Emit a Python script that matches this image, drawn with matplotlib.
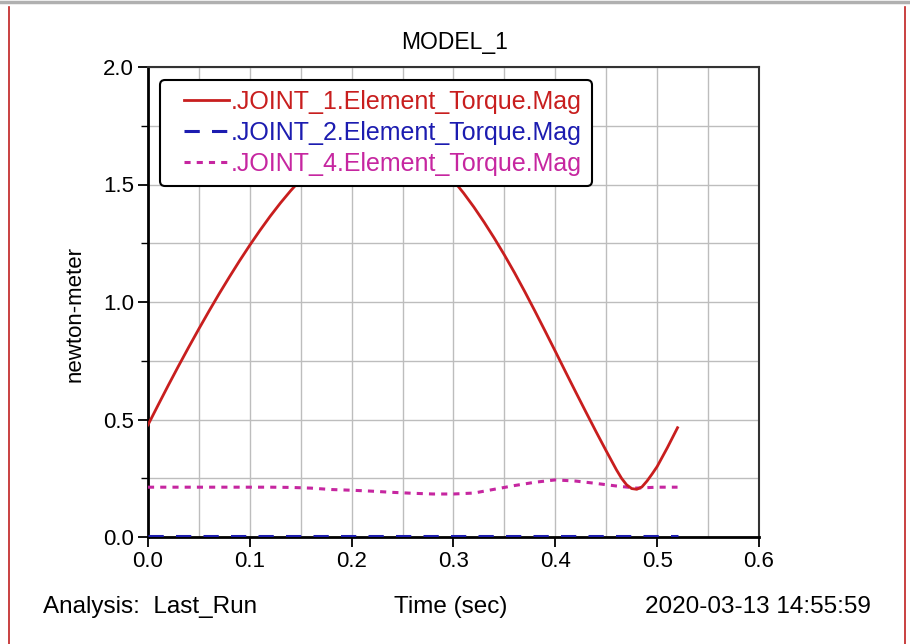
import matplotlib
matplotlib.use("Agg")
import matplotlib.pyplot as plt
from matplotlib.lines import Line2D
from matplotlib.legend_handler import HandlerLine2D
from matplotlib.ticker import MultipleLocator

plt.rcParams['font.family'] = ['Liberation Sans', 'DejaVu Sans']

# ---- data ----
t_red = [0.00, 0.01, 0.02, 0.03, 0.04, 0.05, 0.06, 0.07, 0.08, 0.09,
         0.10, 0.11, 0.12, 0.13, 0.14, 0.15, 0.16, 0.17, 0.18, 0.19,
         0.20, 0.21, 0.22, 0.23, 0.24, 0.25, 0.26, 0.27, 0.28, 0.29,
         0.30, 0.31, 0.32, 0.33, 0.34, 0.35, 0.36, 0.37, 0.38, 0.39,
         0.40, 0.41, 0.42, 0.43, 0.44, 0.45, 0.46, 0.465, 0.47, 0.475,
         0.48, 0.485, 0.49, 0.495, 0.50, 0.51, 0.52]
joint1 = [0.477, 0.562, 0.646, 0.728, 0.808, 0.886, 0.962, 1.036, 1.107, 1.176,
          1.242, 1.305, 1.365, 1.421, 1.473, 1.521, 1.564, 1.602, 1.636, 1.664,
          1.686, 1.702, 1.711, 1.713, 1.707, 1.694, 1.673, 1.645, 1.609, 1.566,
          1.517, 1.463, 1.404, 1.340, 1.272, 1.200, 1.124, 1.044, 0.961, 0.876,
          0.790, 0.703, 0.617, 0.532, 0.448, 0.366, 0.286, 0.250, 0.222, 0.206,
          0.203, 0.213, 0.238, 0.268, 0.300, 0.380, 0.465]

t_other = [0.00, 0.02, 0.04, 0.06, 0.08, 0.10, 0.12, 0.14, 0.16, 0.18,
           0.20, 0.22, 0.24, 0.26, 0.28, 0.30, 0.32, 0.34, 0.36, 0.38,
           0.40, 0.42, 0.44, 0.46, 0.48, 0.50, 0.52]
joint2 = [0.003] * 27
joint4 = [0.212, 0.212, 0.212, 0.212, 0.212, 0.212, 0.212, 0.211, 0.208, 0.202,
          0.199, 0.195, 0.190, 0.186, 0.183, 0.183, 0.187, 0.203, 0.219, 0.233,
          0.243, 0.238, 0.228, 0.217, 0.208, 0.212, 0.212]

labels = ['.JOINT_1.Element_Torque.Mag',
          '.JOINT_2.Element_Torque.Mag',
          '.JOINT_4.Element_Torque.Mag']
colors = ['#c81e1e', '#1c1cb0', '#c626a0']

x_ticks = [0.0, 0.1, 0.2, 0.3, 0.4, 0.5, 0.6]
y_ticks = [0.0, 0.5, 1.0, 1.5, 2.0]

W, H = 910, 644
fig = plt.figure(figsize=(W / 100, H / 100), dpi=100)
L, R, T, B = 148, 759, 67, 537
ax = fig.add_axes([L / W, 1 - B / H, (R - L) / W, (B - T) / H])

ax.plot(t_red, joint1, color=colors[0], lw=2.0, label=labels[0], zorder=5)
ax.plot(t_other, joint2, color=colors[1], lw=2.2, ls=(0, (5, 4)), label=labels[1], zorder=4)
ax.plot(t_other, joint4, color=colors[2], lw=2.2, ls=(0, (2, 2)), label=labels[2], zorder=4)

ax.set_xlim(0, 0.6)
ax.set_ylim(0, 2.0)
ax.set_xticks(x_ticks)
ax.set_yticks(y_ticks)
ax.set_xticklabels([f'{v:.1f}' for v in x_ticks])
ax.set_yticklabels([f'{v:.1f}' for v in y_ticks])
ax.xaxis.set_minor_locator(MultipleLocator(0.05))
ax.yaxis.set_minor_locator(MultipleLocator(0.25))
ax.grid(True, which='both', color='#bdbdbd', lw=1.0, zorder=0)
ax.set_axisbelow(True)
ax.tick_params(axis='both', which='major', direction='out', length=7, width=1.3,
               labelsize=16, pad=3, colors='black')
ax.tick_params(axis='both', which='minor', direction='out', length=5, width=1.0)
ax.tick_params(axis='x', which='minor', length=0)

for s in ['left', 'bottom']:
    ax.spines[s].set_linewidth(2.0)
    ax.spines[s].set_color('black')
for s in ['top', 'right']:
    ax.spines[s].set_linewidth(1.5)
    ax.spines[s].set_color('#333333')

leg = ax.legend(loc='upper left', bbox_to_anchor=(160 / W, 1 - 80 / H),
                bbox_transform=fig.transFigure, borderaxespad=0,
                fontsize=18, handlelength=2.37, handletextpad=0.05,
                labelspacing=0.28, borderpad=0.4, fancybox=True,
                framealpha=1, edgecolor='black',
                handler_map={Line2D: HandlerLine2D(xpad=0.55)})
leg.get_frame().set_linewidth(1.5)
for txt, c in zip(leg.get_texts(), colors):
    txt.set_color(c)
leg.set_zorder(10)

fig.text(455 / W, 1 - 42 / H, 'MODEL_1', ha='center', va='center', fontsize=16.5)
fig.text(75 / W, 1 - 314 / H, 'newton-meter', ha='center', va='center',
         rotation=90, fontsize=16)
fig.text(43 / W, 1 - 607 / H, 'Analysis:  Last_Run', ha='left', va='center', fontsize=17.5)
fig.text(451 / W, 1 - 607 / H, 'Time (sec)', ha='center', va='center', fontsize=17.5)
fig.text(871 / W, 1 - 607 / H, '2020-03-13 14:55:59', ha='right', va='center', fontsize=17.5)

# page border lines
fig.add_artist(Line2D([9 / W, 9 / W], [0, 1 - 7 / H], color='#c02020', lw=1.2,
                      transform=fig.transFigure))
fig.add_artist(Line2D([905 / W, 905 / W], [0, 1 - 7 / H], color='#c02020', lw=1.2,
                      transform=fig.transFigure))
fig.add_artist(Line2D([0, 1], [1 - 2 / H, 1 - 2 / H], color='#b0b0b0', lw=2.5,
                      transform=fig.transFigure))

fig.savefig('out.png', dpi=100)
